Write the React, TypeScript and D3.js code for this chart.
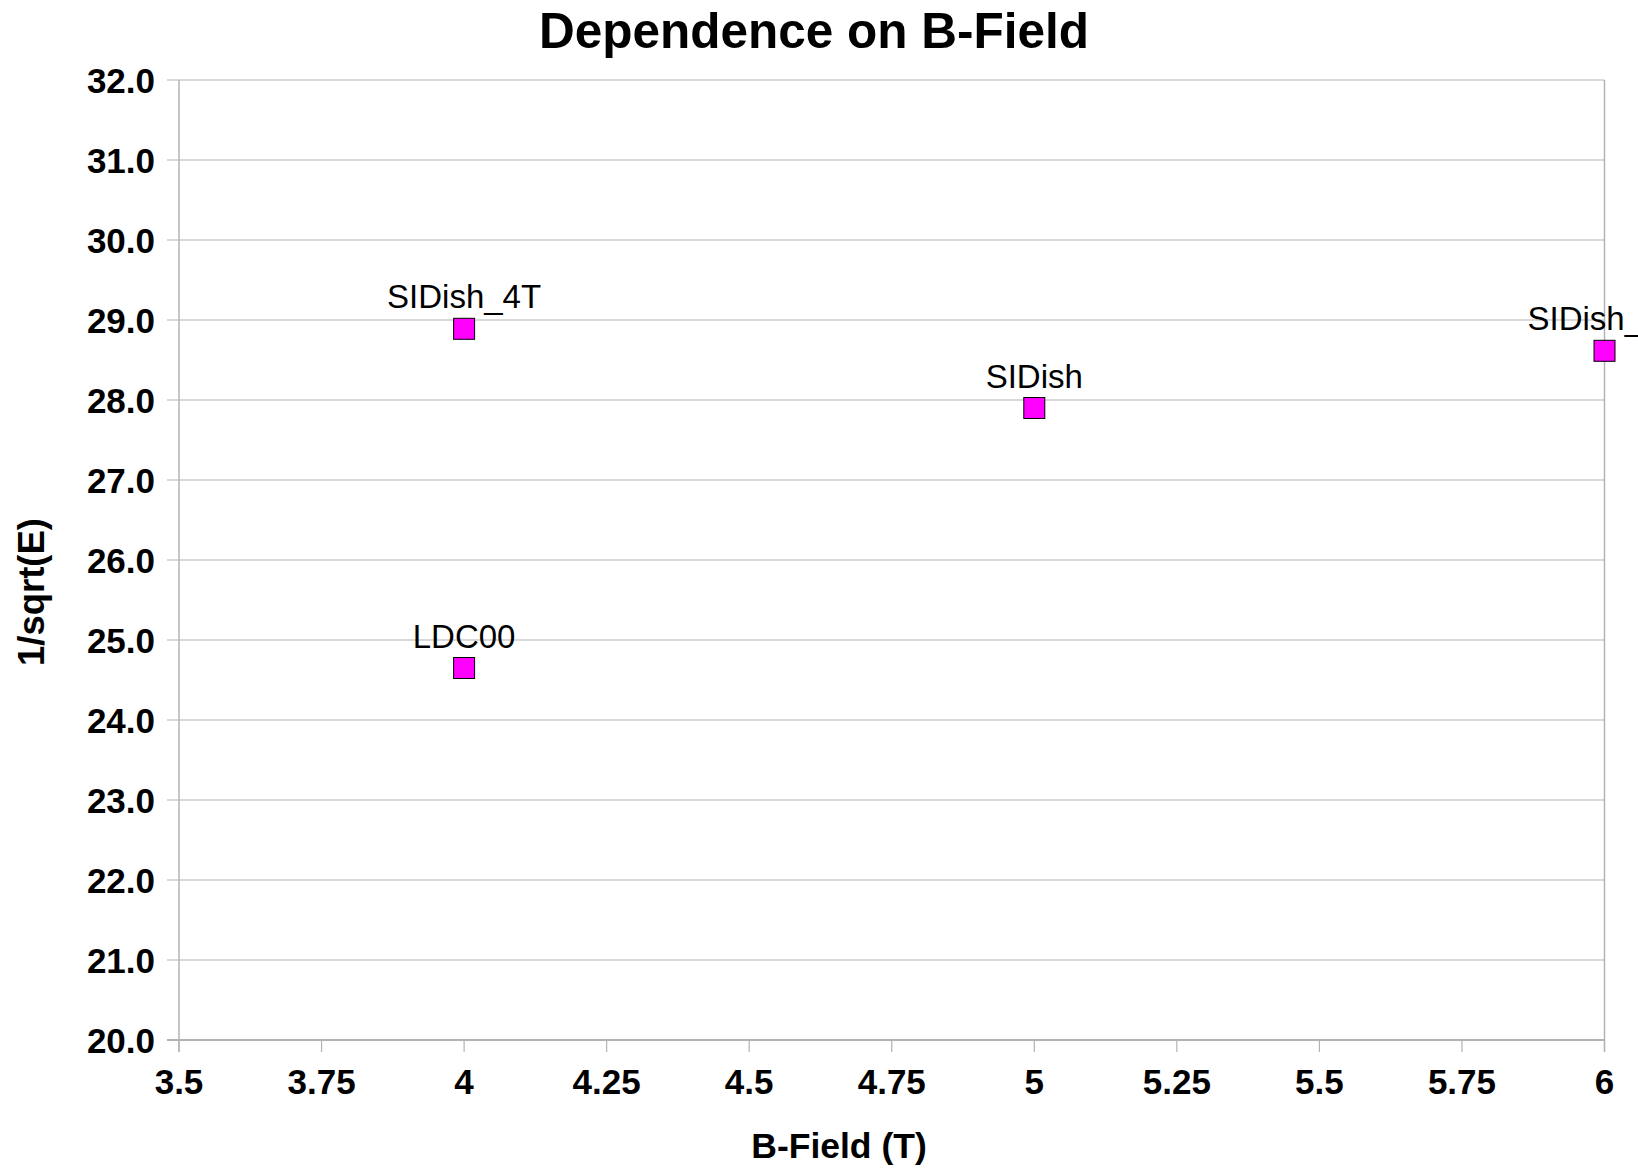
import React from "react";
import * as d3 from "d3";

const pointNames = ["SIDish_4T", "LDC00", "SIDish", "SIDish_6T"];
const bField = [4, 4, 5, 6];
const invSqrtE = [28.89, 24.65, 27.9, 28.615];
const xTicks = [3.5, 3.75, 4, 4.25, 4.5, 4.75, 5, 5.25, 5.5, 5.75, 6];
const yTicks = [20, 21, 22, 23, 24, 25, 26, 27, 28, 29, 30, 31, 32];

const W = 1638;
const H = 1168;
const FONT = "'Liberation Sans', Arial, Helvetica, sans-serif";

export default function App() {
  const x = d3.scaleLinear().domain([3.5, 6]).range([179, 1604.5]);
  const y = d3.scaleLinear().domain([20, 32]).range([1040, 80]);
  const grid = "#b3b3b3";
  const sq = 21;

  return (
    <svg
      width={W}
      height={H}
      viewBox={`0 0 ${W} ${H}`}
      style={{ position: "absolute", left: 0, top: 0, background: "#fff", display: "block" }}
    >
      <rect x={0} y={0} width={W} height={H} fill="#fff" />
      <text
        x={814}
        y={48}
        textAnchor="middle"
        fontFamily={FONT}
        fontWeight="bold"
        fontSize={49.5}
        fill="#000"
      >
        Dependence on B-Field
      </text>

      {/* horizontal gridlines and y ticks */}
      {yTicks.map((t) => (
        <g key={"y" + t}>
          <line x1={167} x2={x(6)} y1={y(t)} y2={y(t)} stroke={grid} strokeWidth={1.2} />
          <text
            x={155}
            y={y(t)}
            dy="0.36em"
            textAnchor="end"
            fontFamily={FONT}
            fontWeight="bold"
            fontSize={35}
            fill="#000"
          >
            {t.toFixed(1)}
          </text>
        </g>
      ))}

      {/* x ticks */}
      {xTicks.map((t) => (
        <g key={"x" + t}>
          <line x1={x(t)} x2={x(t)} y1={y(20)} y2={y(20) + 12} stroke={grid} strokeWidth={1.2} />
          <text
            x={x(t)}
            y={1094}
            textAnchor="middle"
            fontFamily={FONT}
            fontWeight="bold"
            fontSize={35}
            fill="#000"
          >
            {String(t)}
          </text>
        </g>
      ))}

      {/* axes / border */}
      <line x1={x(3.5)} x2={x(3.5)} y1={y(32)} y2={y(20) + 12} stroke={grid} strokeWidth={1.5} />
      <line x1={x(6)} x2={x(6)} y1={y(32)} y2={y(20) + 12} stroke={grid} strokeWidth={1.5} />
      <line x1={167} x2={x(6)} y1={y(20)} y2={y(20)} stroke={grid} strokeWidth={2} />

      {/* points */}
      {pointNames.map((n, i) => (
        <g key={n}>
          <rect
            x={x(bField[i]) - sq / 2}
            y={y(invSqrtE[i]) - sq / 2}
            width={sq}
            height={sq}
            fill="#ff00ff"
            stroke="#000"
            strokeWidth={1}
          />
          <text
            x={x(bField[i])}
            y={y(invSqrtE[i]) - sq / 2 - 10}
            textAnchor="middle"
            fontFamily={FONT}
            fontSize={33}
            fill="#000"
          >
            {n}
          </text>
        </g>
      ))}

      {/* axis titles */}
      <text
        x={839}
        y={1158}
        textAnchor="middle"
        fontFamily={FONT}
        fontWeight="bold"
        fontSize={35.5}
        fill="#000"
      >
        B-Field (T)
      </text>
      <text
        transform={`translate(44, 592) rotate(-90)`}
        textAnchor="middle"
        fontFamily={FONT}
        fontWeight="bold"
        fontSize={36.5}
        fill="#000"
      >
        1/sqrt(E)
      </text>
    </svg>
  );
}
